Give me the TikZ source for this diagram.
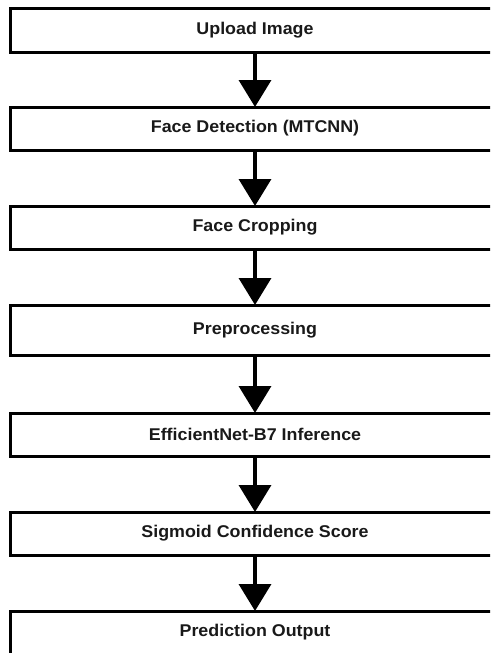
\documentclass[tikz,border=0pt]{standalone}
\usepackage{fontspec}
\setmainfont[FakeStretch=1.05]{Liberation Sans}
\usetikzlibrary{arrows.meta}

\tikzset{
  stage/.style={draw=black, fill=white, line width=3pt, inner sep=0pt, outer sep=0pt,
    minimum width=490pt, font=\fontsize{17}{20}\selectfont\bfseries, text=black!90},
  flow/.style={line width=3.6pt, -{Triangle[width=32pt,length=27pt]}}
}

\begin{document}
\begin{tikzpicture}[x=1pt,y=-1pt]
  \useasboundingbox (0,0) rectangle (490,653);
  \clip (0,0) rectangle (490,653);

  % processing stages, top to bottom
  \node[stage, minimum height=44pt] (upload)  at (255,30)    {Upload Image};
  \node[stage, minimum height=43pt] (detect)  at (255,128.5) {Face Detection (MTCNN)};
  \node[stage, minimum height=43pt] (crop)    at (255,227.5) {Face Cropping};
  \node[stage, minimum height=50pt] (prep)    at (255,330)   {Preprocessing};
  \node[stage, minimum height=43pt] (infer)   at (255,434.5) {EfficientNet-B7 Inference};
  \node[stage, minimum height=43pt] (score)   at (255,533.5) {Sigmoid Confidence Score};
  \node[stage, minimum height=43pt] (output)  at (255,632.5) {Prediction Output};

  % connectors between consecutive stages
  \draw[flow] (upload.south) -- (detect.north);
  \draw[flow] (detect.south) -- (crop.north);
  \draw[flow] (crop.south)   -- (prep.north);
  \draw[flow] (prep.south)   -- (infer.north);
  \draw[flow] (infer.south)  -- (score.north);
  \draw[flow] (score.south)  -- (output.north);
\end{tikzpicture}
\end{document}
